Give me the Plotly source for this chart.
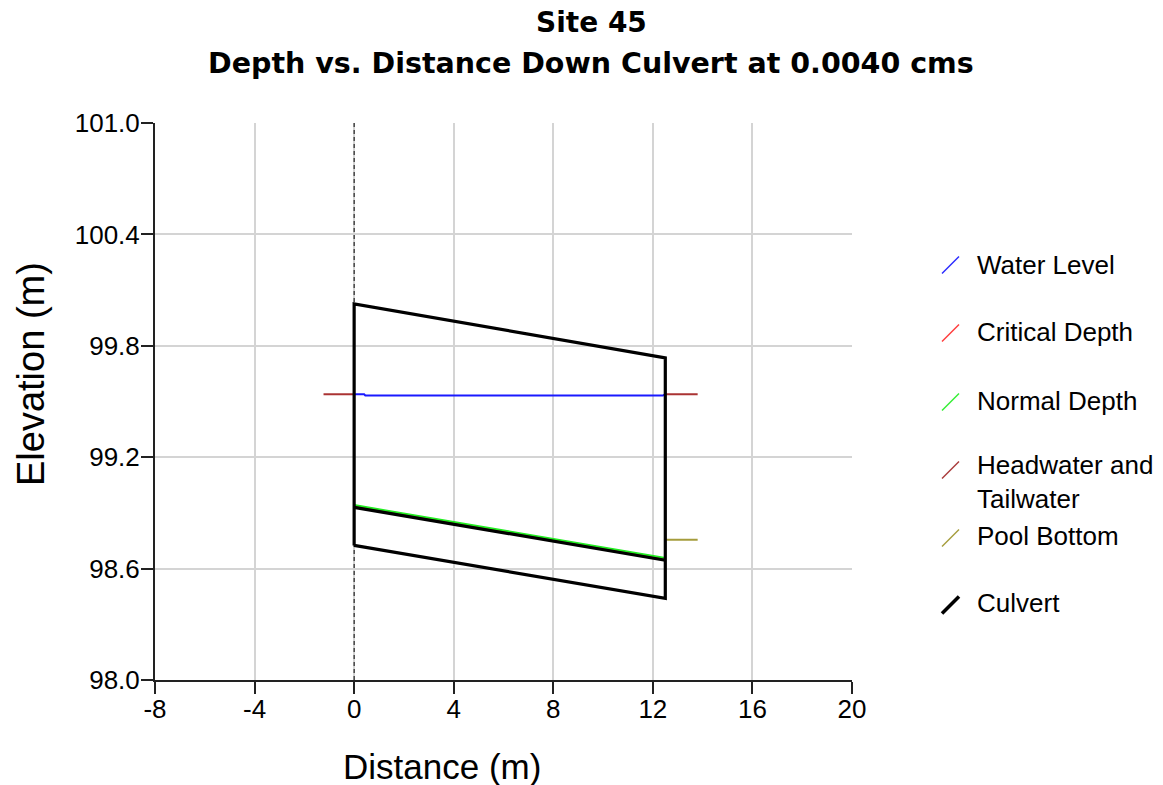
import plotly.graph_objects as go

# ---- data (metres) ----
culvert_x = [0.0, 12.5]            # inlet / outlet stations
culvert_crown = [100.025, 99.735]  # top of culvert
culvert_invert = [98.725, 98.44]   # bottom of culvert
streambed = [98.93, 98.645]        # bed material surface inside culvert

water_x = [0.0, 0.4, 0.45, 12.4, 12.5]
water_y = [99.539, 99.539, 99.532, 99.532, 99.539]

critical_y = [98.938, 98.653]
normal_y = [98.942, 98.657]

headwater_x = [-1.23, 0.0]
headwater_y = [99.539, 99.539]
tailwater_x = [12.5, 13.8]
tailwater_y = [99.539, 99.539]

pool_x = [12.5, 13.8]
pool_y = [98.755, 98.755]

x_ticks = [-8, -4, 0, 4, 8, 12, 16, 20]
y_ticks = [98.0, 98.6, 99.2, 99.8, 100.4, 101.0]

legend_items = [
    ("Water Level", "#2a2aff", 1.5),
    ("Critical Depth", "#ff3b3b", 1.5),
    ("Normal Depth", "#33ee33", 1.5),
    ("Headwater and<br>Tailwater", "#a83a3a", 1.5),
    ("Pool Bottom", "#a59c3c", 1.5),
    ("Culvert", "#000000", 3.5),
]

# ---- layout geometry (pixels) ----
W, H = 1163, 785
L, R, T, B = 155, 311, 123, 105
PW, PH = W - L - R, H - T - B


def xp(px):
    return (px - L) / PW


def yp(py):
    return (H - B - py) / PH


FONT = "Liberation Sans, Arial, sans-serif"
TITLE_FONT = "DejaVu Sans, sans-serif"

fig = go.Figure()

fig.add_trace(go.Scatter(x=culvert_x, y=critical_y, mode="lines",
                         line=dict(color="#ff2020", width=2), name="Critical Depth"))
fig.add_trace(go.Scatter(x=culvert_x, y=normal_y, mode="lines",
                         line=dict(color="#22ee22", width=2), name="Normal Depth"))
fig.add_trace(go.Scatter(x=water_x, y=water_y, mode="lines",
                         line=dict(color="#1a1aff", width=2), name="Water Level"))
fig.add_trace(go.Scatter(x=headwater_x, y=headwater_y, mode="lines",
                         line=dict(color="#aa3333", width=2), name="Headwater"))
fig.add_trace(go.Scatter(x=tailwater_x, y=tailwater_y, mode="lines",
                         line=dict(color="#aa3333", width=2), name="Tailwater"))
fig.add_trace(go.Scatter(x=pool_x, y=pool_y, mode="lines",
                         line=dict(color="#a59c3c", width=2), name="Pool Bottom"))

# culvert outline: invert -> crown at inlet, along crown, down outlet, back along invert
outline_x = [culvert_x[0], culvert_x[0], culvert_x[1], culvert_x[1], culvert_x[0]]
outline_y = [culvert_invert[0], culvert_crown[0], culvert_crown[1],
             culvert_invert[1], culvert_invert[0]]
fig.add_trace(go.Scatter(x=outline_x, y=outline_y, mode="lines",
                         line=dict(color="#000000", width=3.2), name="Culvert"))
fig.add_trace(go.Scatter(x=culvert_x, y=streambed, mode="lines",
                         line=dict(color="#000000", width=3.2), name="Streambed"))

# dashed reference line at the inlet
fig.add_shape(type="line", xref="x", yref="paper", x0=0, x1=0, y0=0, y1=1,
              line=dict(color="#000000", width=1, dash="4px,3px"), layer="above")

# ---- custom legend with slanted glyphs ----
legend_rows = [265, 333, 402, 470, 538, 605]
text_rows = [265, 332, 401, 482, 536, 603]
for (label, color, width), gy, ty in zip(legend_items, legend_rows, text_rows):
    fig.add_shape(type="line", xref="paper", yref="paper",
                  x0=xp(942), y0=yp(gy + 8.5), x1=xp(959), y1=yp(gy - 8.5),
                  line=dict(color=color, width=width))
    fig.add_annotation(xref="paper", yref="paper", x=xp(975), y=yp(ty),
                       xanchor="left", yanchor="middle", align="left",
                       text=label, showarrow=False,
                       font=dict(family=FONT, size=26, color="#000000"))

# ---- titles ----
fig.add_annotation(xref="paper", yref="paper", x=xp(591), y=yp(22),
                   xanchor="center", yanchor="middle", showarrow=False,
                   text="<b>Site 45</b>",
                   font=dict(family=TITLE_FONT, size=28, color="#000000"))
fig.add_annotation(xref="paper", yref="paper", x=xp(591), y=yp(63),
                   xanchor="center", yanchor="middle", showarrow=False,
                   text="<b>Depth vs. Distance Down Culvert at 0.0040 cms</b>",
                   font=dict(family=TITLE_FONT, size=28.5, color="#000000"))
fig.add_annotation(xref="paper", yref="paper", x=xp(442), y=yp(766),
                   xanchor="center", yanchor="middle", showarrow=False,
                   text="Distance (m)",
                   font=dict(family=FONT, size=35, color="#000000"))
fig.add_annotation(xref="paper", yref="paper", x=xp(31), y=yp(374),
                   xanchor="center", yanchor="middle", showarrow=False,
                   text="Elevation (m)", textangle=-90,
                   font=dict(family=FONT, size=38, color="#000000"))

axis_common = dict(
    showgrid=True, gridcolor="#d4d4d4", gridwidth=2,
    showline=True, linecolor="#222222", linewidth=2,
    ticks="outside", ticklen=12, tickwidth=2, tickcolor="#222222",
    zeroline=False, mirror=False,
    tickfont=dict(family=FONT, size=26, color="#000000"),
)

fig.update_layout(
    width=W, height=H, autosize=False,
    margin=dict(l=L, r=R, t=T, b=B, pad=0),
    paper_bgcolor="#ffffff", plot_bgcolor="#ffffff",
    showlegend=False,
    xaxis=dict(range=[-8, 20], tickvals=x_ticks,
               ticktext=[str(v) for v in x_ticks],
               ticklabelstandoff=-7, **axis_common),
    yaxis=dict(range=[98.0, 101.0], tickvals=y_ticks,
               ticktext=[f"{v:.1f}" for v in y_ticks],
               ticklabelstandoff=-4, **axis_common),
)

fig.write_html("out.html")
